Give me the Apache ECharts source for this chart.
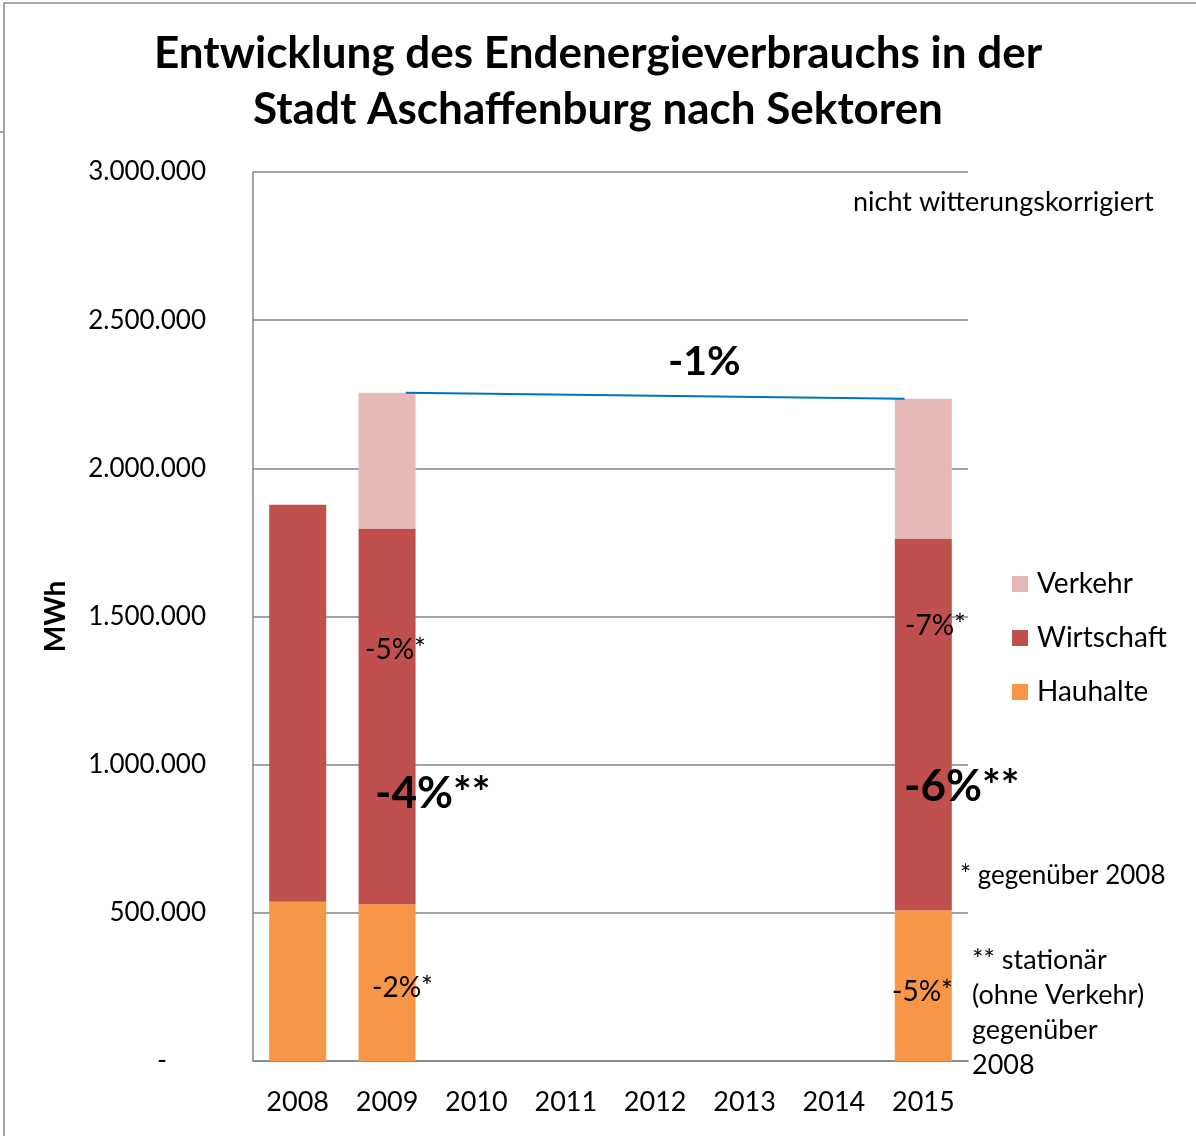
<!DOCTYPE html>
<html>
<head>
<meta charset="utf-8">
<title>Endenergieverbrauch Aschaffenburg</title>
<script src="https://cdn.jsdelivr.net/npm/echarts@6/dist/echarts.min.js"></script>
<style>
  html, body { margin: 0; padding: 0; background: #fff; }
  #chart { width: 1196px; height: 1136px; }
</style>
</head>
<body>
<div id="chart"></div>
<script>
// Daten (MWh)
const years = ['2008', '2009', '2010', '2011', '2012', '2013', '2014', '2015'];
const hauhalte = [537000, 529000, null, null, null, null, null, 509000];
const wirtschaft = [1340000, 1268000, null, null, null, null, null, 1254000];
const verkehr = [null, 458000, null, null, null, null, null, 472000];
const legendNames = ['Verkehr', 'Wirtschaft', 'Hauhalte'];
const yMin = 0;
const yMax = 3000000;
const yStep = 500000;
// Trendlinie 2009 -> 2015 (x in Kategorie-Einheiten)
const trendX = [1.71, 7.29];

const FONT = 'Lato';

function total(i) {
  return (hauhalte[i] || 0) + (wirtschaft[i] || 0) + (verkehr[i] || 0);
}
const trendData = [
  [trendX[0], total(1)],
  [trendX[1], total(7)]
];

function deNumber(v) {
  if (v === 0) return '{dash|-}';
  return String(v).replace(/\B(?=(\d{3})+(?!\d))/g, '.');
}

function label(x, y, text, size, bold) {
  return {
    type: 'text', left: x, top: y, z: 100,
    style: { text: text, font: (bold ? 'bold ' : '') + size + 'px ' + FONT, fill: '#000' }
  };
}

var chartDom = document.getElementById('chart');
var myChart = echarts.init(chartDom, null, { renderer: 'canvas' });
var option;

option = {
  backgroundColor: '#fff',
  animation: false,
  textStyle: { fontFamily: FONT, color: '#000' },
  title: {
    text: 'Entwicklung des Endenergieverbrauchs in der\nStadt Aschaffenburg nach Sektoren',
    left: 'center',
    top: 21,
    textStyle: {
      fontFamily: FONT,
      fontWeight: 'bold',
      fontSize: 44,
      lineHeight: 56,
      color: '#000'
    }
  },
  legend: {
    data: legendNames,
    orient: 'vertical',
    left: 1007,
    top: 565,
    itemWidth: 16,
    itemHeight: 16,
    itemGap: 26,
    icon: 'rect',
    textStyle: { fontFamily: FONT, fontSize: 28, color: '#000', padding: [0, 0, 0, 4] }
  },
  grid: {
    left: 253,
    right: 228,
    top: 172,
    bottom: 75,
    containLabel: false
  },
  xAxis: [
    {
      type: 'category',
      data: years,
      axisLine: { lineStyle: { color: '#868686', width: 1.5 } },
      axisTick: { show: false },
      axisLabel: { fontFamily: FONT, fontSize: 27, color: '#000', margin: 28 }
    },
    {
      type: 'value',
      min: 0,
      max: years.length,
      show: false
    }
  ],
  yAxis: {
    type: 'value',
    min: yMin,
    max: yMax,
    interval: yStep,
    name: 'MWh',
    nameLocation: 'middle',
    nameGap: 183,
    nameTextStyle: { fontFamily: FONT, fontWeight: 'bold', fontSize: 28, color: '#000' },
    axisLine: { show: true, lineStyle: { color: '#868686', width: 1.5 } },
    axisTick: { show: false },
    splitLine: { lineStyle: { color: '#868686', width: 1.5 } },
    axisLabel: {
      fontFamily: FONT,
      fontSize: 26,
      color: '#000',
      margin: 47,
      formatter: deNumber,
      rich: {
        dash: { fontFamily: FONT, fontSize: 26, color: '#000', padding: [0, 39, 0, 0] }
      }
    }
  },
  series: [
    {
      name: 'Hauhalte',
      type: 'bar',
      stack: 'total',
      barWidth: 57,
      itemStyle: { color: '#F79646' },
      data: hauhalte
    },
    {
      name: 'Wirtschaft',
      type: 'bar',
      stack: 'total',
      barWidth: 57,
      itemStyle: { color: '#C0504D' },
      data: wirtschaft
    },
    {
      name: 'Verkehr',
      type: 'bar',
      stack: 'total',
      barWidth: 57,
      itemStyle: { color: '#E6B9B8' },
      data: verkehr
    },
    {
      name: 'Trend',
      type: 'line',
      xAxisIndex: 1,
      symbol: 'none',
      lineStyle: { color: '#0070C0', width: 2 },
      data: trendData,
      z: 5
    }
  ],
  graphic: [
    // Rahmen
    {
      type: 'rect',
      shape: { x: 4, y: 3, width: 1400, height: 1400 },
      style: { fill: 'none', stroke: '#8c8c8c', lineWidth: 1.5 },
      silent: true
    },
    {
      type: 'line',
      shape: { x1: 0, y1: 132, x2: 4, y2: 132 },
      style: { stroke: '#8c8c8c', lineWidth: 1.5 },
      silent: true
    },
    // Beschriftungen
    label(853, 189, 'nicht witterungskorrigiert', 27, false),
    label(668, 341, '-1%', 41, true),
    label(365, 636, '-5%*', 28, false),
    label(375, 772, '-4%**', 44, true),
    label(372, 974, '-2%*', 28, false),
    label(905, 612, '-7%*', 28, false),
    label(904, 765, '-6%**', 44, true),
    label(892, 978, '-5%*', 28, false),
    label(960, 863, '* gegenüber 2008', 26, false),
    {
      type: 'text', left: 972, top: 943, z: 100,
      style: {
        text: '** stationär\n(ohne Verkehr)\ngegenüber\n2008',
        font: '27px ' + FONT,
        lineHeight: 35,
        fill: '#000'
      }
    }
  ]
};

option && myChart.setOption(option);
</script>
</body>
</html>
